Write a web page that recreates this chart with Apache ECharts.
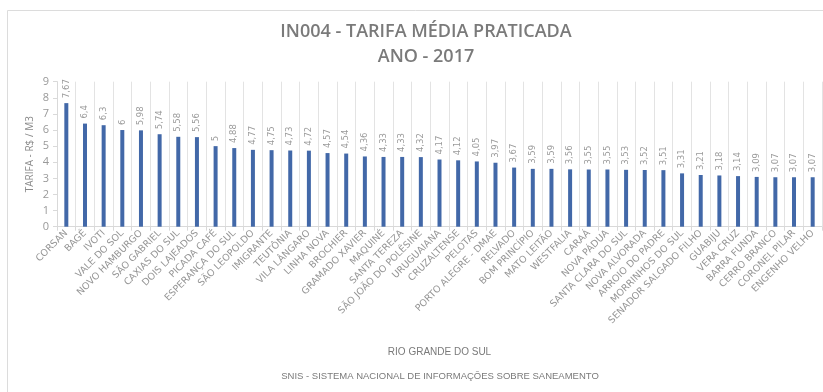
<!DOCTYPE html>
<html>
<head>
<meta charset="utf-8">
<script src="https://cdn.jsdelivr.net/npm/echarts@6/dist/echarts.min.js"></script>
<style>html,body{margin:0;padding:0;background:#fff;}#c{width:823px;height:392px;}</style>
</head>
<body>
<div id="c"></div>
<script>
const categories = ["CORSAN","BAGÉ","IVOTI","VALE DO SOL","NOVO HAMBURGO","SÃO GABRIEL","CAXIAS DO SUL","DOIS LAJEADOS","PICADA CAFÉ","ESPERANÇA DO SUL","SÃO LEOPOLDO","IMIGRANTE","TEUTÔNIA","VILA LÂNGARO","LINHA NOVA","BROCHIER","GRAMADO XAVIER","MAQUINÉ","SANTA TEREZA","SÃO JOÃO DO POLÊSINE","URUGUAIANA","CRUZALTENSE","PELOTAS","PORTO ALEGRE - DMAE","RELVADO","BOM PRINCÍPIO","MATO LEITÃO","WESTFALIA","CARAÁ","NOVA PÁDUA","SANTA CLARA DO SUL","NOVA ALVORADA","ARROIO DO PADRE","MORRINHOS DO SUL","SENADOR SALGADO FILHO","GUABIJU","VERA CRUZ","BARRA FUNDA","CERRO BRANCO","CORONEL PILAR","ENGENHO VELHO"];
const tarifa = [7.67,6.4,6.3,6,5.98,5.74,5.58,5.56,5,4.88,4.77,4.75,4.73,4.72,4.57,4.54,4.36,4.33,4.33,4.32,4.17,4.12,4.05,3.97,3.67,3.59,3.59,3.56,3.55,3.55,3.53,3.52,3.51,3.31,3.21,3.18,3.14,3.09,3.07,3.07,3.07];
const yTicks = [0,1,2,3,4,5,6,7,8,9];

const chart = echarts.init(document.getElementById('c'), null, {renderer:'canvas'});
chart.setOption({
  animation:false,
  backgroundColor:'#fff',
  graphic:[
    {type:'rect',left:5,top:8,shape:{width:900,height:500},style:{fill:'none',stroke:'#dcdcdc',lineWidth:1},silent:true},
    {type:'text',x:440,y:371,style:{text:'SNIS - SISTEMA NACIONAL DE INFORMAÇÕES SOBRE SANEAMENTO',
      fontFamily:'Liberation Sans Narrow, Liberation Sans',fontSize:9.5,fill:'#7a7a7a',align:'center',verticalAlign:'top'},silent:true}
  ],
  title:[
    {text:'IN004 - TARIFA MÉDIA PRATICADA\nANO - 2017',left:421,top:14,textAlign:'center',
     textStyle:{fontFamily:'Open Sans',fontWeight:600,fontSize:18,color:'#7a7a7a',lineHeight:25}}
  ],
  grid:{left:57,right:1,top:81.7,bottom:165.3,containLabel:false},
  xAxis:{type:'category',data:categories,boundaryGap:true,
    name:'RIO GRANDE DO SUL',nameLocation:'middle',nameGap:121,
    nameTextStyle:{fontFamily:'Liberation Sans Narrow, Liberation Sans',fontSize:10,color:'#7a7a7a'},
    axisLine:{show:true,lineStyle:{color:'#d9d9d9'}},
    axisTick:{show:true,length:4,lineStyle:{color:'#d9d9d9'}},
    splitLine:{show:true,lineStyle:{color:'#e3e3e3',width:1}},
    axisLabel:{interval:0,rotate:45,fontFamily:'DejaVu Sans',fontSize:9.5,color:'#959595',margin:5}
  },
  yAxis:{type:'value',min:0,max:9,interval:1,
    name:'TARIFA - R$ / M3',nameLocation:'middle',nameGap:22,nameRotate:90,nameMoveOverlap:false,
    nameTextStyle:{fontFamily:'Open Sans',fontSize:10,color:'#8a8a8a'},
    axisLine:{show:true,lineStyle:{color:'#d9d9d9'}},
    axisTick:{show:true,length:4,lineStyle:{color:'#d9d9d9'}},
    splitLine:{show:false},
    axisLabel:{fontFamily:'Open Sans',fontSize:11,color:'#999',margin:8,
      formatter:v=>yTicks.includes(v)?String(v):''}
  },
  series:[{type:'bar',data:tarifa,barWidth:4,
    itemStyle:{color:'#4268a8'},
    label:{show:true,position:'top',rotate:90,align:'left',verticalAlign:'middle',distance:5,
      fontFamily:'DejaVu Sans',fontSize:8.5,color:'#9a9a9a',
      formatter:p=>String(p.value).replace('.',',')}
  }]
});
</script>
</body>
</html>
